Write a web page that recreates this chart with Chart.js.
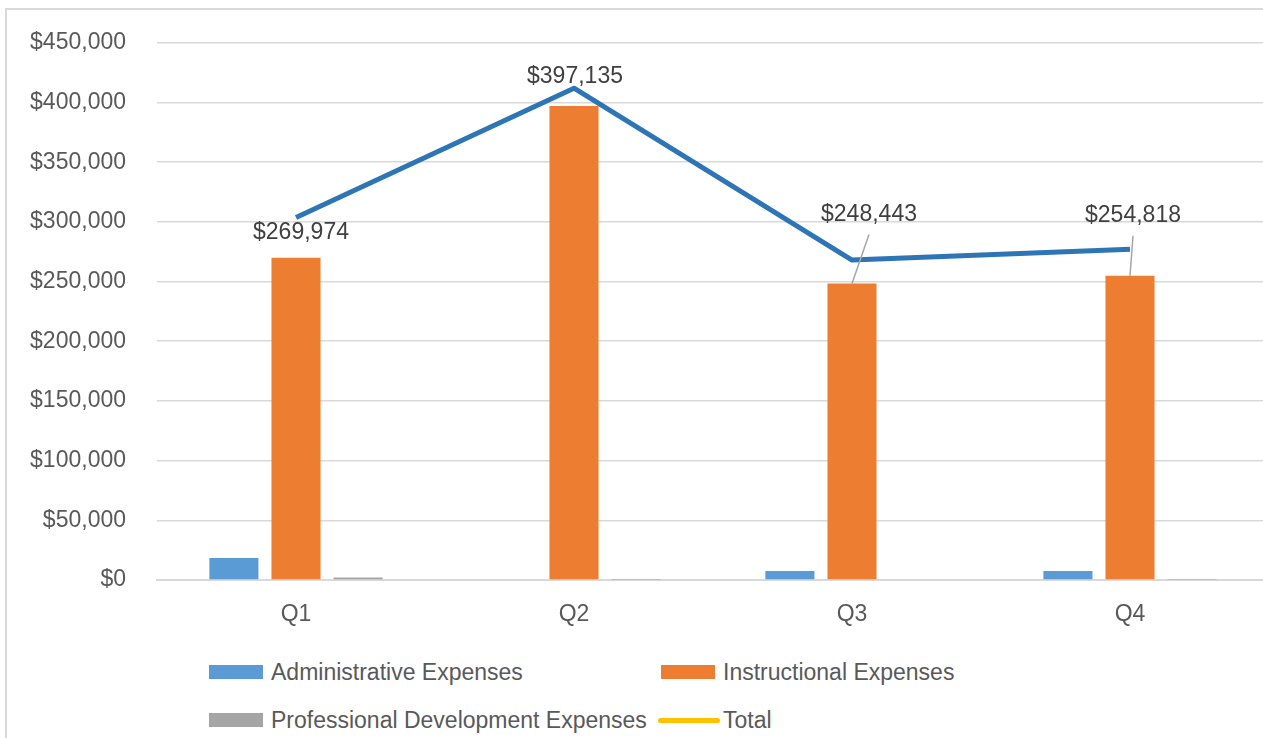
<!DOCTYPE html>
<html>
<head>
<meta charset="utf-8">
<script src="https://cdn.jsdelivr.net/npm/chart.js@4"></script>
<style>
html,body{margin:0;padding:0;background:#fff;overflow:hidden;width:1263px;height:738px}
#frame{position:absolute;left:5px;top:8px;width:1300px;height:800px;border:2px solid #d9d9d9;box-sizing:border-box;overflow:hidden}
#box{position:absolute;left:0;top:-12px;width:1272px;height:652px}
.lg{position:absolute;display:flex;align-items:center;height:28px;font:23px "Liberation Sans",Arial,sans-serif;color:#595959;white-space:nowrap}
.lg i{display:inline-block;width:54px;height:14px;margin-right:8px}
.lg i.ln{width:62px;height:5px;border-radius:3px;margin-right:3px}
</style>
</head>
<body>
<div id="frame">
  <div id="box"><canvas id="ch_gastos"></canvas></div>
  <div id="legend"></div>
</div>
<script>
// datos
const quarters   = ['Q1','Q2','Q3','Q4'];
const adminExp   = [18500, 600, 7500, 7500];
const instrExp   = [269974, 397135, 248443, 254818];
const profDevExp = [2100, 300, 0, 300];
const totalLine  = [303600, 412000, 268000, 277000];
const yTicks     = [0, 50000, 100000, 150000, 200000, 250000, 300000, 350000, 400000, 450000];

// etiquetas sobre las barras naranjas (desplazamiento en px respecto al tope de la barra)
const labelOffsets = [[5,-25],[1,-29],[17,-69],[3,-60]];
const leaderLines  = [false,false,true,true];

const FONT = '"Liberation Sans", Arial, sans-serif';
const nf = new Intl.NumberFormat('en-US');

const barLabels = {
  id:'barLabels',
  afterDatasetsDraw(chart){
    const ctx = chart.ctx, meta = chart.getDatasetMeta(1);
    ctx.save();
    ctx.font = '23px ' + FONT;
    ctx.fillStyle = '#404040'; ctx.textAlign = 'center'; ctx.textBaseline = 'middle';
    meta.data.forEach((bar,i)=>{
      const [dx,dy] = labelOffsets[i];
      const x = bar.x + dx, y = bar.y + dy;
      if (leaderLines[i]){
        ctx.strokeStyle = '#a6a6a6'; ctx.lineWidth = 1.5;
        ctx.beginPath(); ctx.moveTo(bar.x, bar.y); ctx.lineTo(x, y + 20); ctx.stroke();
      }
      ctx.fillText('$' + nf.format(instrExp[i]), x, y);
    });
    ctx.restore();
  }
};

const series = [
  { label:'Administrative Expenses', data:adminExp, backgroundColor:'#5B9BD5' },
  { label:'Instructional Expenses', data:instrExp, backgroundColor:'#ED7D31' },
  { label:'Professional Development Expenses', data:profDevExp, backgroundColor:'#A5A5A5' }
];

new Chart(document.getElementById('ch_gastos'), {
  type:'bar',
  data:{
    labels: quarters,
    datasets:[
      ...series.map(s=>({ ...s, order:1, categoryPercentage:0.67, barPercentage:0.79 })),
      { type:'line', label:'Total', data:totalLine, borderColor:'#2E75B6', borderWidth:5, pointRadius:0,
        fill:false, tension:0, order:0, borderJoinStyle:'round' }
    ]
  },
  options:{
    responsive:true, maintainAspectRatio:false, animation:false, devicePixelRatio:1,
    // el padding de los ticks del eje y ya deja ~43px arriba
    layout:{ padding:{ top:0, right:10, bottom:0, left:0 } },
    plugins:{ legend:{ display:false }, tooltip:{ enabled:false } },
    scales:{
      x:{
        grid:{ display:false },
        border:{ color:'#d9d9d9', width:2 },
        ticks:{ color:'#595959', font:{ family:FONT, size:23 }, padding:13 },
        afterFit:(s)=>{ s.height = 70; }
      },
      y:{
        min:0, max:450000,
        afterBuildTicks:(s)=>{ s.ticks = yTicks.map(v=>({ value:v })); },
        grid:{ color:'#d9d9d9', lineWidth:1.5, drawTicks:false },
        border:{ display:false },
        ticks:{ color:'#595959', font:{ family:FONT, size:23 }, padding:31, callback:(v)=>'$' + nf.format(v) },
        afterFit:(s)=>{ s.width = 150; }
      }
    }
  },
  plugins:[barLabels]
});

// leyenda en dos columnas, como en Excel
const legendItems = [
  { text:series[0].label, color:series[0].backgroundColor, left:202, top:648 },
  { text:series[1].label, color:series[1].backgroundColor, left:654, top:648 },
  { text:series[2].label, color:series[2].backgroundColor, left:202, top:696 },
  { text:'Total', color:'#FFC000', left:651, top:696, line:true }
];
const lg = document.getElementById('legend');
legendItems.forEach(it=>{
  const d = document.createElement('div');
  d.className = 'lg';
  d.style.left = it.left + 'px'; d.style.top = it.top + 'px';
  const sw = document.createElement('i');
  if (it.line) sw.className = 'ln';
  sw.style.background = it.color;
  d.appendChild(sw);
  d.appendChild(document.createTextNode(it.text));
  lg.appendChild(d);
});
</script>
</body>
</html>
